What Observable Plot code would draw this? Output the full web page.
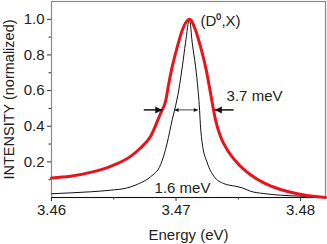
<!DOCTYPE html>
<html>
<head>
<meta charset="utf-8">
<script src="https://cdn.jsdelivr.net/npm/d3@7"></script>
<script src="https://cdn.jsdelivr.net/npm/@observablehq/plot@0.6"></script>
<style>
  html, body { margin: 0; padding: 0; background: #fff; }
  svg { display: block; }
</style>
</head>
<body>
<div id="chart"></div>
<script>
// Red curve (broad, 3.7 meV)
const redEnergy = [3.46000, 3.46153, 3.46313, 3.46474, 3.46635, 3.46715, 3.46795, 3.46876, 3.46916, 3.46942, 3.46969, 3.47010, 3.47050, 3.47108, 3.47157, 3.47197, 3.47237, 3.47263, 3.47291, 3.47317, 3.47357, 3.47411, 3.47492, 3.47598, 3.47705, 3.47839, 3.47973, 3.48134, 3.48200];
const redIntensity = [0.110, 0.119, 0.141, 0.175, 0.231, 0.278, 0.342, 0.473, 0.540, 0.640, 0.733, 0.845, 0.939, 1.000, 0.939, 0.845, 0.733, 0.640, 0.530, 0.436, 0.342, 0.268, 0.194, 0.128, 0.082, 0.045, 0.021, 0.004, 0.000];
// Black curve (narrow, 1.6 meV)
const blackEnergy = [3.46000, 3.46153, 3.46313, 3.46474, 3.46608, 3.46715, 3.46795, 3.46876, 3.46929, 3.46969, 3.46988, 3.47022, 3.47050, 3.47076, 3.47108, 3.47130, 3.47157, 3.47177, 3.47189, 3.47193, 3.47210, 3.47251, 3.47304, 3.47384, 3.47478, 3.47532, 3.47598, 3.47705, 3.47839, 3.48027, 3.48200];
const blackIntensity = [0.021, 0.026, 0.032, 0.041, 0.054, 0.082, 0.116, 0.184, 0.306, 0.436, 0.490, 0.603, 0.733, 0.868, 1.000, 0.868, 0.733, 0.600, 0.490, 0.436, 0.306, 0.194, 0.119, 0.078, 0.063, 0.054, 0.035, 0.022, 0.013, 0.007, 0.004];

// Axis ticks
const xTicks = [3.46, 3.47, 3.48];
const xMinorTicks = [3.465, 3.475];
const yTicks = [0.2, 0.4, 0.6, 0.8, 1.0];
const yMinorTicks = [0.1, 0.3, 0.5, 0.7, 0.9];

// Labels
const xLabel = "Energy (eV)";
const yLabel = "INTENSITY (normalized)";
const peakLabel = ["(D⁰,X)"];
const peakLabelPos = [{x: 3.47197, y: 0.961}];
const wideLabel = ["3.7 meV"];
const wideLabelPos = [{x: 3.47406, y: 0.542}];
const narrowLabel = ["1.6 meV"];
const narrowLabelPos = [{x: 3.47052, y: 0.028}];

// FWHM arrows (data coordinates: from -> tip)
const outerArrows = [
  {x1: 3.46741, x2: 3.46889, y: 0.4916, dir: "right"},
  {x1: 3.47462, x2: 3.47312, y: 0.4916, dir: "left"}
];
const innerArrow = [{x1: 3.46988, x2: 3.47175, y: 0.4916}];

const red = redEnergy.map((e, i) => ({e, v: redIntensity[i]}));
const black = blackEnergy.map((e, i) => ({e, v: blackIntensity[i]}));

function headSymbol(len, half, pointRight) {
  return {
    draw(context) {
      const s = pointRight ? 1 : -1;
      context.moveTo(0, 0);
      context.lineTo(-s * len, -half);
      context.lineTo(-s * len, half);
      context.closePath();
    }
  };
}

const FONT = 15;
const TEXT = "#222";

const chart = Plot.plot({
  width: 327,
  height: 244,
  marginLeft: 51,
  marginRight: 2,
  marginTop: 1,
  marginBottom: 47,
  style: {fontFamily: "Liberation Sans, Arial, sans-serif", fontSize: FONT + "px", color: TEXT, background: "#fff"},
  x: {domain: [3.46, 3.482]},
  y: {domain: [0, 1.1]},
  marks: [
    Plot.frame({stroke: "#8a8a8a", strokeWidth: 1.2}),
    Plot.ruleY([0], {stroke: "#111", strokeWidth: 1.2}),
    Plot.axisX({ticks: xTicks, tickFormat: d3.format(".2f"), tickSize: 4, tickPadding: 3, fontSize: FONT, label: null, stroke: "#333", fill: TEXT}),
    Plot.axisX({ticks: xMinorTicks, tickSize: 2.5, text: null, label: null, stroke: "#333"}),
    Plot.axisY({ticks: yTicks, tickFormat: d3.format(".1f"), tickSize: 4, tickPadding: 3, fontSize: FONT, label: null, stroke: "#333", fill: TEXT}),
    Plot.axisY({ticks: yMinorTicks, tickSize: 2.5, text: null, label: null, stroke: "#333"}),
    Plot.text([xLabel], {frameAnchor: "bottom", text: d => d, dy: 42, textAnchor: "middle", lineAnchor: "bottom", fontSize: FONT, fill: TEXT}),
    Plot.text([yLabel], {frameAnchor: "left", text: d => d, rotate: -90, dx: -37.5, textAnchor: "middle", lineAnchor: "bottom", fontSize: 14.5, fill: TEXT}),
    Plot.line(black, {x: "e", y: "v", stroke: "#111", strokeWidth: 1, curve: "monotone-x"}),
    Plot.line(red, {x: "e", y: "v", stroke: "#e8141c", strokeWidth: 3, curve: "monotone-x"}),
    Plot.link(outerArrows, {x1: "x1", x2: "x2", y1: "y", y2: "y", stroke: "#111", strokeWidth: 1.5}),
    Plot.dot(outerArrows.filter(d => d.dir === "right"), {x: "x2", y: "y", symbol: headSymbol(7, 3.5, true), fill: "#111", stroke: "none"}),
    Plot.dot(outerArrows.filter(d => d.dir === "left"), {x: "x2", y: "y", symbol: headSymbol(7, 3.5, false), fill: "#111", stroke: "none"}),
    Plot.link(innerArrow, {x1: "x1", x2: "x2", y1: "y", y2: "y", stroke: "#111", strokeWidth: 0.8}),
    Plot.dot(innerArrow, {x: "x1", y: "y", symbol: headSymbol(4, 2, false), fill: "#111", stroke: "none"}),
    Plot.dot(innerArrow, {x: "x2", y: "y", symbol: headSymbol(4, 2, true), fill: "#111", stroke: "none"}),
    Plot.text(peakLabelPos, {x: "x", y: "y", text: (d, i) => peakLabel[i], textAnchor: "start", lineAnchor: "bottom", fontSize: FONT, fill: TEXT}),
    Plot.text(wideLabelPos, {x: "x", y: "y", text: (d, i) => wideLabel[i], textAnchor: "start", lineAnchor: "bottom", fontSize: FONT, fill: TEXT}),
    Plot.text(narrowLabelPos, {x: "x", y: "y", text: (d, i) => narrowLabel[i], textAnchor: "middle", lineAnchor: "bottom", fontSize: FONT, fill: TEXT})
  ]
});
document.getElementById("chart").appendChild(chart);
</script>
</body>
</html>
